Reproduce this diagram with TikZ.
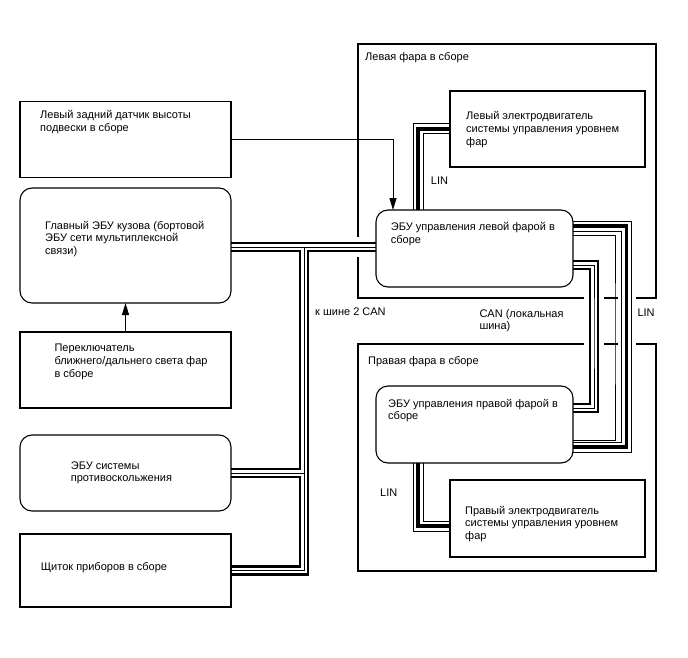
\documentclass[tikz,border=0pt]{standalone}
\usepackage{fontspec}
\setmainfont{Liberation Sans}
\usetikzlibrary{arrows.meta,positioning}
\tikzset{
  frame/.style={draw, line width=1.1pt, anchor=north west, inner sep=0pt, outer sep=0pt},
  unit/.style={frame, rounded corners=12pt},
  txt/.style={anchor=base west, align=left, inner sep=0pt, font=\fontsize{11}{12.9}\selectfont},
  arr/.style={line width=1pt, -{Triangle[length=12pt,width=7pt]}},
  canhalo/.style={draw=white, line width=20pt},
  canline/.style={line width=2.8pt, double=white, double distance=5.2pt},
  canmid/.style={line width=1pt},
  linhalo/.style={draw=white, line width=18pt},
  linline/.style={line width=1pt, double=white, double distance=9pt},
  linmid/.style={line width=3.6pt}
}
\begin{document}
\begin{tikzpicture}[x=1pt,y=-1pt]
\useasboundingbox (0,0) rectangle (688,658);

\node[frame, minimum width=298pt, minimum height=254pt] (lhl) at (358,44) {};
\node[frame, minimum width=298pt, minimum height=227pt] (rhl) at (358,344) {};
\node[txt] (lhl-t) at (365,60.5) {Левая фара в сборе};
\node[txt] (rhl-t) at (368,364) {Правая фара в сборе};

\coordinate (tj) at (304,247);
\coordinate (canr) at (594,330);
\coordinate (linr) at (626.5,330);
\coordinate (sh) at (615,330);

\node[frame, draw=none, minimum width=211pt, minimum height=115pt] (mecu) at (20,188) {};
\node[frame, draw=none, minimum width=197pt, minimum height=77pt] (lecu) at (376,210) {};
\node[frame, draw=none, minimum width=197pt, minimum height=77pt] (recu) at (376,386) {};
\node[frame, draw=none, minimum width=211pt, minimum height=76pt] (pcs) at (20,435) {};
\node[frame, draw=none, minimum width=211pt, minimum height=73pt] (meter) at (20,534) {};
\node[frame, draw=none, minimum width=195pt, minimum height=76pt] (lmot) at (450,91) {};
\node[frame, draw=none, minimum width=195pt, minimum height=77pt] (rmot) at (450,480) {};

\foreach \s in {canhalo,canline,canmid}
  \draw[\s] (mecu.east |- tj) -- (lecu.west |- tj)
    (tj) -- (tj |- meter.east) -- (meter.east)
    (tj |- pcs.east) -- (pcs.east);
\foreach \s in {canhalo,canline,canmid}
  \draw[\s] ([yshift=-16.5pt]lecu.east) -| (canr) |- ([yshift=16.5pt]recu.east);
\foreach \s in {linhalo,linline,linmid}
  \draw[\s] ([yshift=22.5pt]lecu.east) -| (linr) |- ([yshift=-22.5pt]recu.east);
\draw[line width=1pt] ([yshift=13.5pt]lecu.east) -| (sh) |- ([yshift=-15.5pt]recu.east);
\foreach \s in {linhalo,linline,linmid}
  \draw[\s] (lmot.west) -| ([xshift=-56.5pt]lecu.north);
\foreach \s in {linhalo,linline,linmid}
  \draw[\s] ([xshift=-56.5pt]recu.south) |- ([yshift=-7.5pt]rmot.west);

\node[unit, minimum width=211pt, minimum height=115pt] (mecu) at (20,188) {};
\node[unit, minimum width=197pt, minimum height=77pt] (lecu) at (376,210) {};
\node[unit, minimum width=197pt, minimum height=77pt] (recu) at (376,386) {};
\node[unit, minimum width=211pt, minimum height=76pt] (pcs) at (20,435) {};
\node[frame, minimum width=211pt, minimum height=73pt] (meter) at (20,534) {};
\node[frame, minimum width=195pt, minimum height=76pt] (lmot) at (450,91) {};
\node[frame, minimum width=195pt, minimum height=77pt] (rmot) at (450,480) {};
\node[frame, minimum width=211pt, minimum height=76pt] (sensor) at (20,101.5) {};
\node[frame, minimum width=211pt, minimum height=76pt] (sw) at (20,332) {};

\node[txt] (sensor-t) at (40,131.9) {Левый задний датчик высоты\\подвески в сборе};
\node[txt] (mecu-t) at (45,254.8) {Главный ЭБУ кузова (бортовой\\ЭБУ сети мультиплексной\\связи)};
\node[txt] (sw-t) at (54.3,377.3) {Переключатель\\ближнего/дальнего света фар\\в сборе};
\node[txt] (pcs-t) at (70.7,481.9) {ЭБУ системы\\противоскольжения};
\node[txt] (meter-t) at (40.7,570.5) {Щиток приборов в сборе};
\node[txt] (lmot-t) at (466,145.3) {Левый электродвигатель\\системы управления уровнем\\фар};
\node[txt] (lecu-t) at (390.7,243.4) {ЭБУ управления левой фарой в\\сборе};
\node[txt] (recu-t) at (388,419.9) {ЭБУ управления правой фарой в\\сборе};
\node[txt] (rmot-t) at (465,539.8) {Правый электродвигатель\\системы управления уровнем\\фар};

\draw[arr] (sensor.east) -| ([xshift=-81.5pt]lecu.north);
\draw[arr] (sw.north) -- (mecu.south);

\node[txt] (can2) at (315,315) {к шине 2 CAN};
\node[txt] (canloc) at (479.3,329.9) {CAN (локальная\\шина)};
\node[txt] (linr-t) at (637.3,316.5) {LIN};
\node[txt] (linl-t) at (430.7,184.5) {LIN};
\node[txt] (linb-t) at (380,496) {LIN};
\end{tikzpicture}
\end{document}
